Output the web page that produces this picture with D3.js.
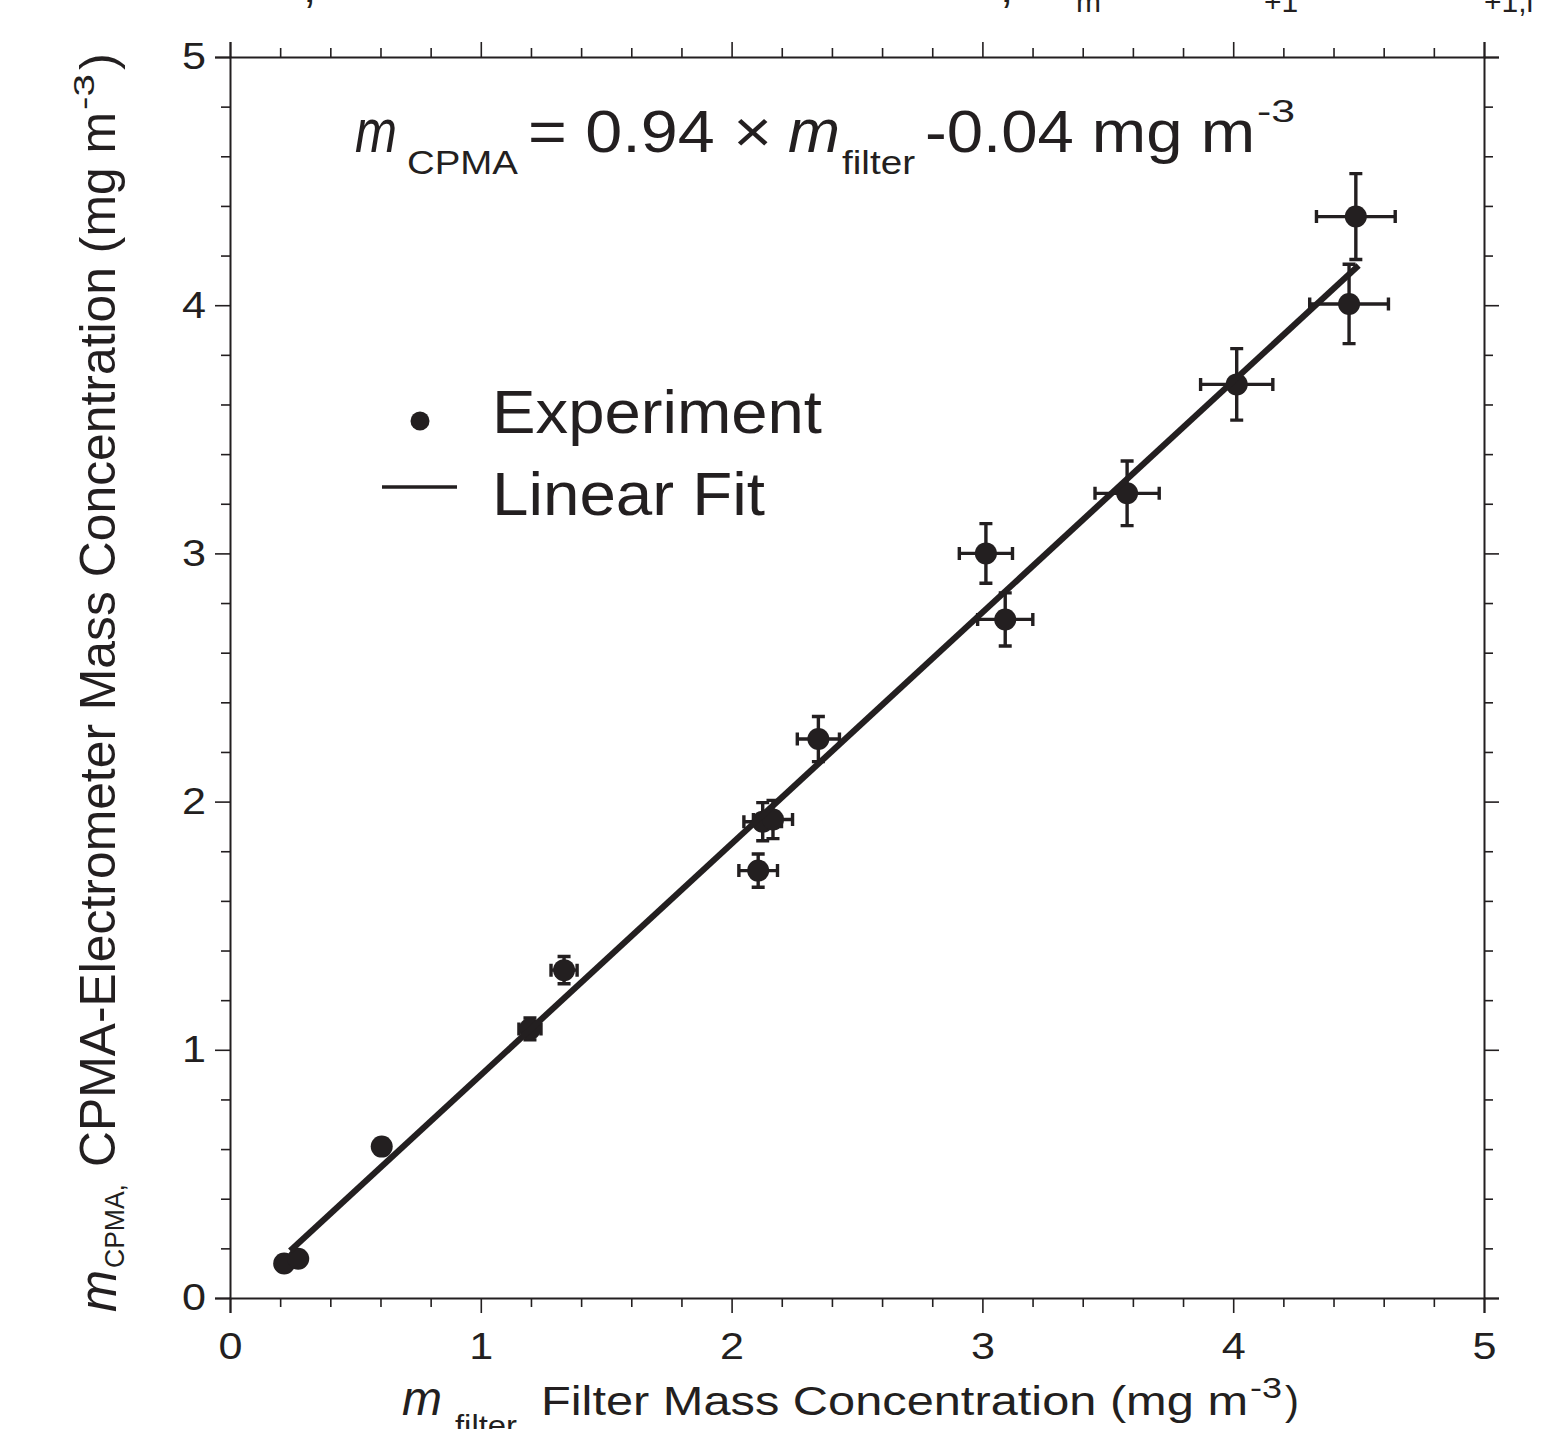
<!DOCTYPE html>
<html>
<head>
<meta charset="utf-8">
<script src="https://cdn.jsdelivr.net/npm/d3@7"></script>
<style>
  html, body { margin: 0; padding: 0; background: #fff; }
  svg { display: block; font-family: "Liberation Sans", Arial, sans-serif; }
</style>
</head>
<body>
<script>
// Filter vs CPMA-electrometer mass concentration, with linear fit

const filterMass = [0.216, 0.272, 0.605, 1.196, 1.332, 2.106, 2.124, 2.165, 2.346, 3.014, 3.091, 3.577, 4.014, 4.462, 4.489];
const cpmaMass   = [0.139, 0.158, 0.610, 1.084, 1.321, 1.722, 1.919, 1.928, 2.252, 3.000, 2.734, 3.242, 3.681, 4.005, 4.357];
const filterErr  = [0.010, 0.010, 0.020, 0.044, 0.052, 0.077, 0.075, 0.078, 0.084, 0.106, 0.110, 0.128, 0.144, 0.157, 0.157];
const cpmaErr    = [0.010, 0.010, 0.020, 0.044, 0.055, 0.067, 0.077, 0.077, 0.091, 0.120, 0.107, 0.130, 0.144, 0.160, 0.173];

const fitX = [0.24, 4.50];
const fitY = [0.19, 4.16];

const majorTicks = [0, 1, 2, 3, 4, 5];
const minorTicks = d3.range(0, 5.001, 0.2).filter(v => Math.abs(v - Math.round(v)) > 1e-6);

const legendLabels = ['Experiment', 'Linear Fit'];

const W = 1554, H = 1429;
const INK = '#231f20';
const FONT = '"Liberation Sans", Arial, sans-serif';

const svg = d3.select('body').append('svg')
  .attr('width', W)
  .attr('height', H);

svg.append('rect').attr('width', W).attr('height', H).attr('fill', '#fff');

const x = d3.scaleLinear().domain([0, 5]).range([230, 1484]);
const y = d3.scaleLinear().domain([0, 5]).range([1298, 57]);

// ─── Axes (all four sides, ticks outward, labels left/bottom only) ───────────

function axisPair(maker, transform, labels) {
  const g = svg.append('g').attr('transform', transform);
  g.call(maker().tickValues(majorTicks).tickSize(15).tickSizeOuter(15)
    .tickPadding(labels === 'left' ? 9 : 20)
    .tickFormat(labels ? d3.format('d') : () => ''));
  g.select('.domain').attr('stroke', INK).attr('stroke-width', 2);
  g.selectAll('.tick line').attr('stroke', INK).attr('stroke-width', 1.6);
  g.selectAll('.tick text')
    .attr('fill', INK)
    .style('font-family', FONT)
    .style('font-size', '37px');
  if (labels) {
    g.selectAll('.tick text')
      .attr('textLength', 24)
      .attr('lengthAdjust', 'spacingAndGlyphs');
  }

  const m = svg.append('g').attr('transform', transform);
  m.call(maker().tickValues(minorTicks).tickSize(9).tickFormat(() => ''));
  m.select('.domain').remove();
  m.selectAll('.tick line').attr('stroke', INK).attr('stroke-width', 1.6);
}

axisPair(() => d3.axisLeft(y),   `translate(${x(0)},0)`, 'left');
axisPair(() => d3.axisRight(y),  `translate(${x(5)},0)`, null);
axisPair(() => d3.axisBottom(x), `translate(0,${y(0)})`, 'bottom');
axisPair(() => d3.axisTop(x),    `translate(0,${y(5)})`, null);

// ─── Error bars ───────────────────────────────────────────────────────────────

const points = filterMass.map((v, i) => ({
  x: v, y: cpmaMass[i], ex: filterErr[i], ey: cpmaErr[i]
}));

const cap = 6.5;
const gErr = svg.append('g')
  .attr('stroke', INK)
  .attr('stroke-width', 3.4)
  .attr('fill', 'none');

points.forEach(p => {
  const cx = x(p.x), cy = y(p.y);
  const x0 = x(p.x - p.ex), x1 = x(p.x + p.ex);
  const y0 = y(p.y - p.ey), y1 = y(p.y + p.ey);
  gErr.append('path').attr('d',
    `M${cx},${y0}V${y1}` +
    `M${cx - cap},${y0}H${cx + cap}M${cx - cap},${y1}H${cx + cap}` +
    `M${x0},${cy}H${x1}` +
    `M${x0},${cy - cap}V${cy + cap}M${x1},${cy - cap}V${cy + cap}`);
});

// ─── Points ──────────────────────────────────────────────────────────────────

svg.append('g').selectAll('circle')
  .data(points)
  .join('circle')
  .attr('cx', d => x(d.x))
  .attr('cy', d => y(d.y))
  .attr('r', 11)
  .attr('fill', INK);

// ─── Linear fit ──────────────────────────────────────────────────────────────

svg.append('path')
  .datum(fitX.map((v, i) => [v, fitY[i]]))
  .attr('fill', 'none')
  .attr('stroke', INK)
  .attr('stroke-width', 6.2)
  .attr('d', d3.line().x(d => x(d[0])).y(d => y(d[1])));

// ─── Text helper ─────────────────────────────────────────────────────────────

function txt(parent, s, px, py, size, opts = {}) {
  const t = parent.append('text')
    .attr('x', px).attr('y', py)
    .attr('fill', INK)
    .style('font-family', FONT)
    .style('font-size', size + 'px')
    .text(s);
  if (opts.italic) t.style('font-style', 'italic');
  if (opts.len) t.attr('textLength', opts.len).attr('lengthAdjust', 'spacingAndGlyphs');
  return t;
}

// ─── Equation ────────────────────────────────────────────────────────────────

const gEq = svg.append('g');
txt(gEq, 'm', 355, 152, 62, { italic: true, len: 42 });
txt(gEq, 'CPMA', 407, 174, 34, { len: 111 });
txt(gEq, '= 0.94 \u00d7', 528, 152, 59, { len: 244 });
txt(gEq, 'm', 788, 152, 62, { italic: true, len: 52 });
txt(gEq, 'filter', 842, 174, 34, { len: 73 });
txt(gEq, '-0.04 mg m', 925, 152, 59, { len: 330 });
txt(gEq, '-3', 1257, 122, 32, { len: 38 });

// ─── Legend ──────────────────────────────────────────────────────────────────

const gLeg = svg.append('g');
gLeg.append('circle').attr('cx', 420).attr('cy', 421).attr('r', 9.5).attr('fill', INK);
gLeg.append('line')
  .attr('x1', 382).attr('x2', 457).attr('y1', 487).attr('y2', 487)
  .attr('stroke', INK).attr('stroke-width', 3.5);
txt(gLeg, legendLabels[0], 492, 433, 62, { len: 330 });
txt(gLeg, legendLabels[1], 492, 515, 62, { len: 273 });

// ─── Axis titles ─────────────────────────────────────────────────────────────

const gX = svg.append('g');
txt(gX, 'm', 402, 1415, 48, { italic: true, len: 40 });
txt(gX, 'filter', 455, 1436, 30, { len: 62 });
txt(gX, 'Filter Mass Concentration (mg m', 541, 1415, 41, { len: 707 });
txt(gX, '-3', 1250, 1398, 29, { len: 32 });
txt(gX, ')', 1285, 1415, 41, { len: 14 });

// rotated: local x runs upward along the image, local y points right
const gY = svg.append('g').attr('transform', 'rotate(-90)');
txt(gY, 'm', -1312, 116, 54, { italic: true, len: 42 });
txt(gY, 'CPMA,', -1268, 124, 27, { len: 84 });
txt(gY, 'CPMA-Electrometer Mass Concentration (mg m', -1167, 115, 50, { len: 1055 });
txt(gY, '-3', -110, 94, 30, { len: 36 });
txt(gY, ')', -70, 115, 50, { len: 17 });

// ─── Caption fragments clipped at the top edge ───────────────────────────────

const gTop = svg.append('g');
txt(gTop, ',', 303, 2, 48);
txt(gTop, ',', 1000, 2, 48);
txt(gTop, 'm', 1076, 12, 30);
txt(gTop, '+1', 1264, 12, 30);
txt(gTop, '+1,i', 1484, 12, 30);
</script>
</body>
</html>
